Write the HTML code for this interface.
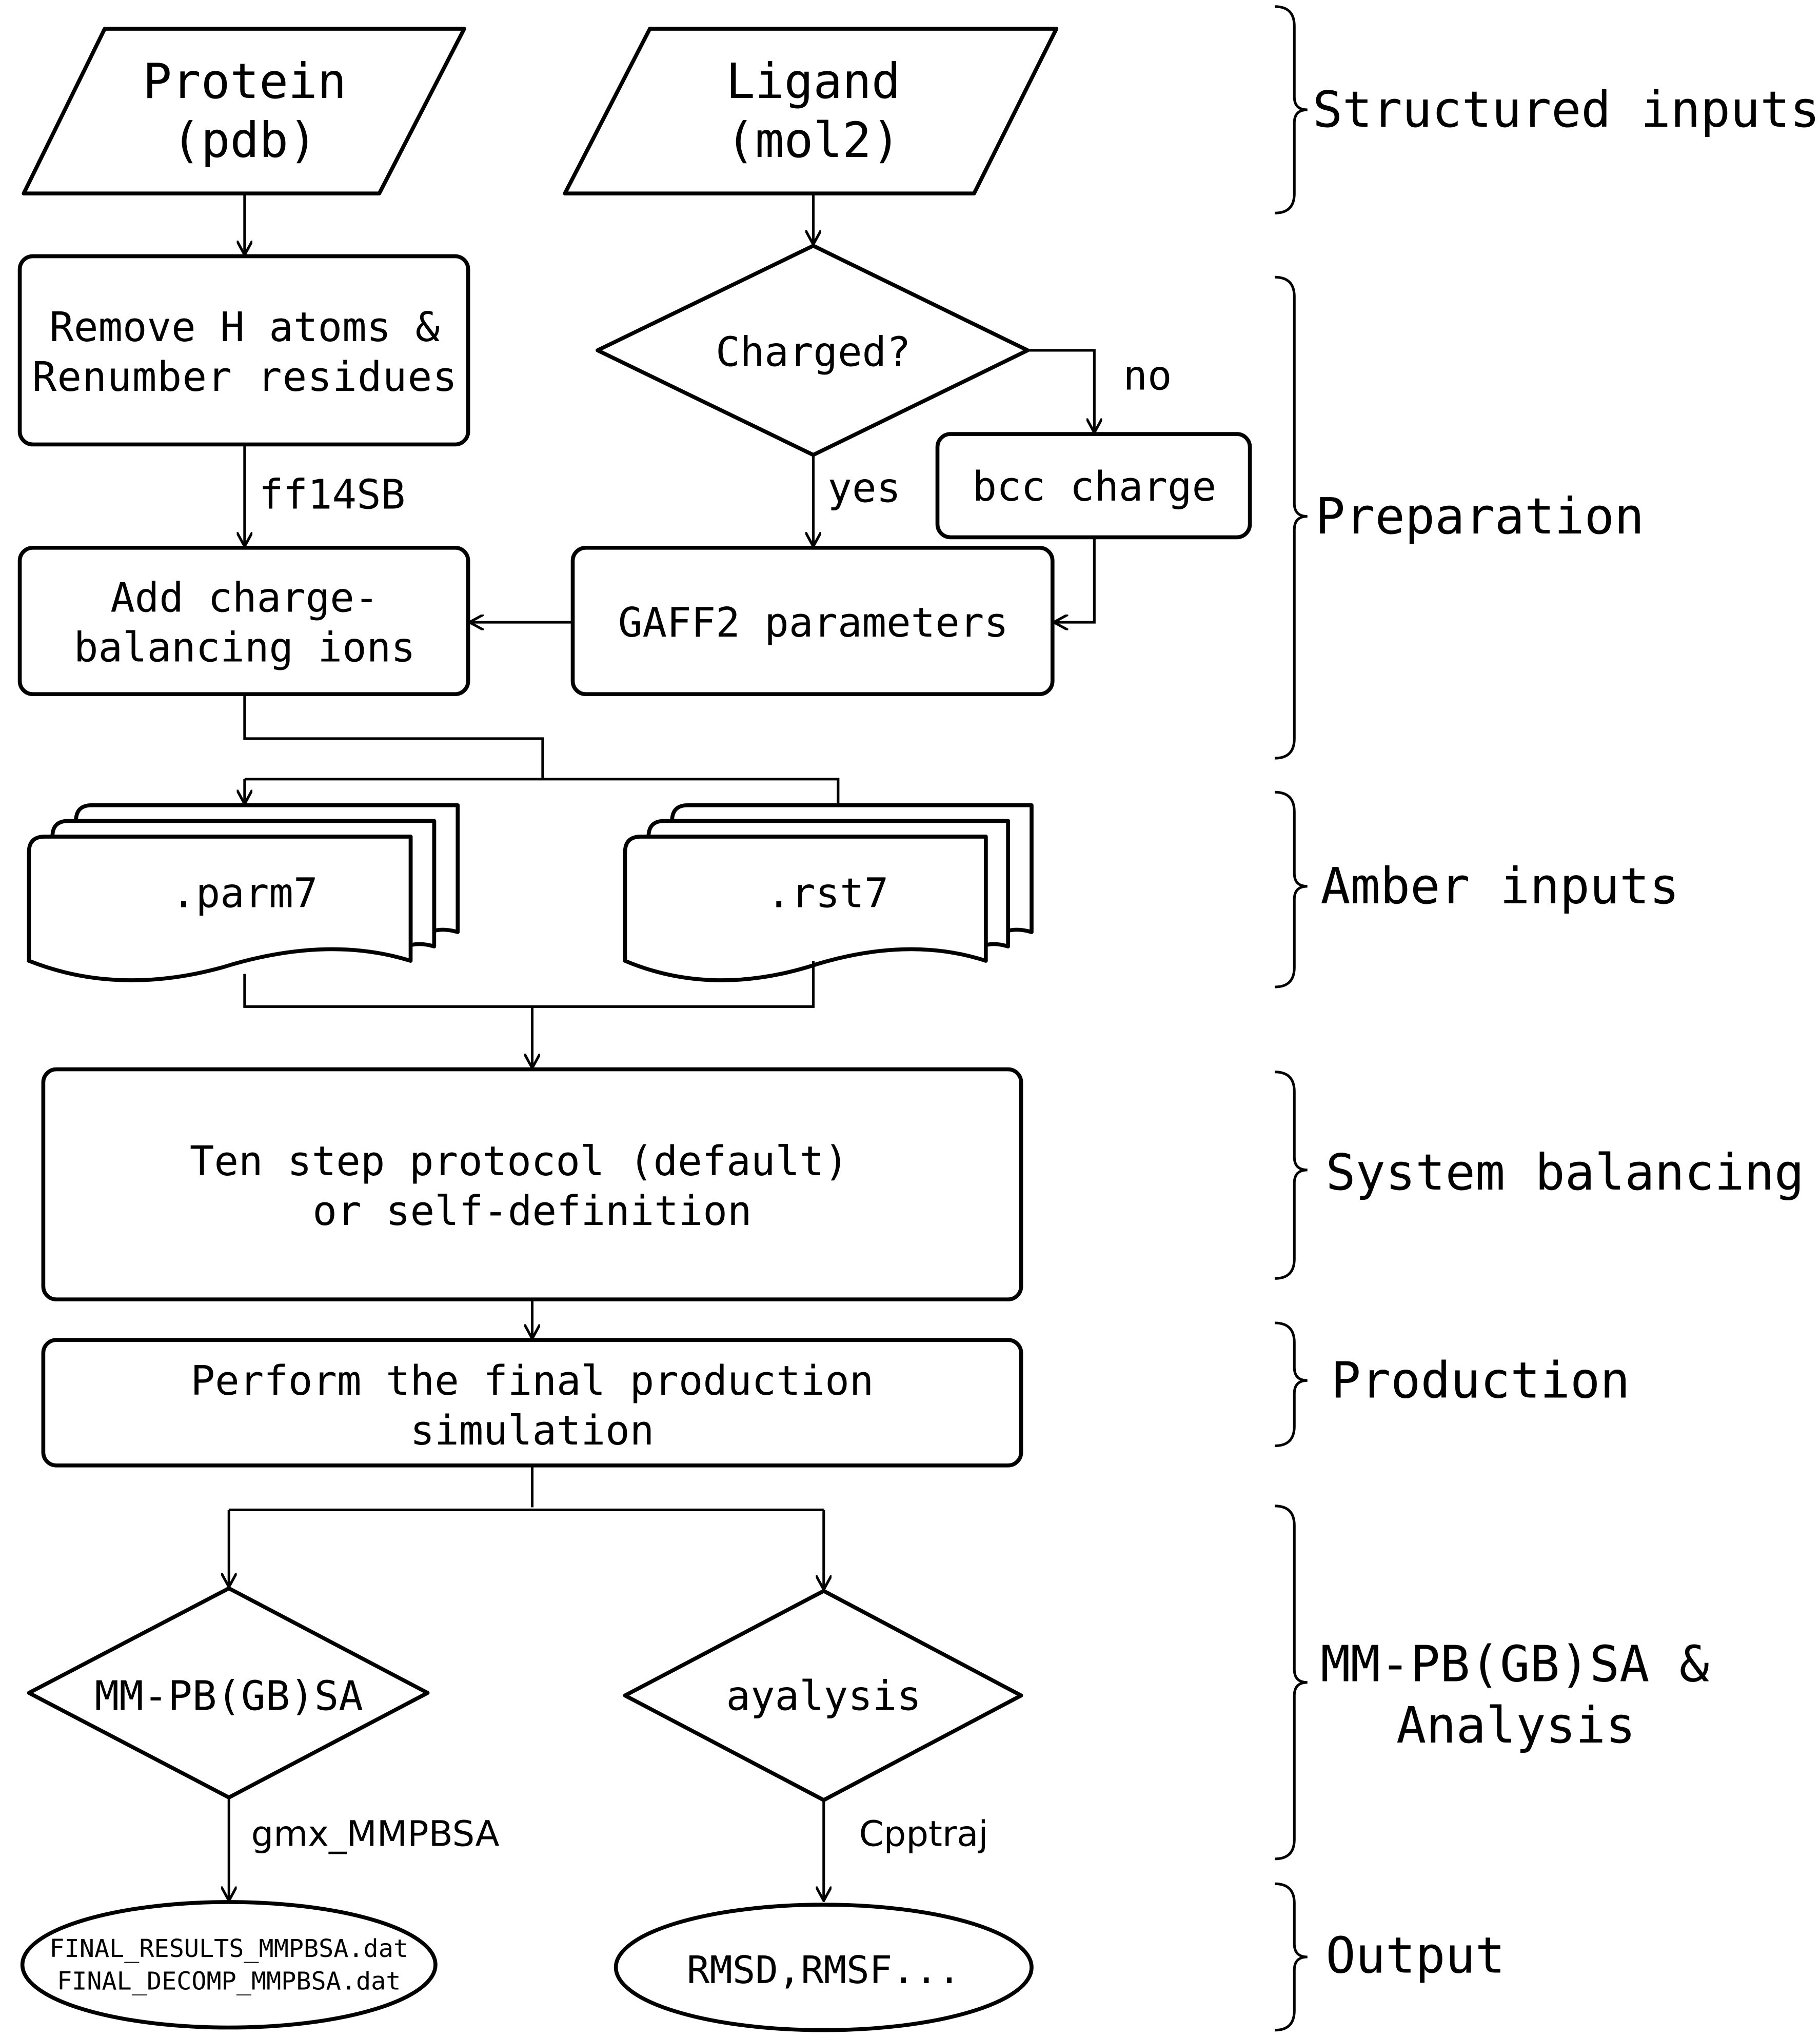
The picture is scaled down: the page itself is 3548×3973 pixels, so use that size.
<!DOCTYPE html>
<html><head><meta charset="utf-8"><style>
html,body{margin:0;padding:0;background:#fff}
svg{display:block}
text{font-family:"DejaVu Sans Mono","Liberation Mono",monospace;fill:#000}
</style></head><body>
<svg width="3548" height="3973" viewBox="0 0 1392 1559" xmlns="http://www.w3.org/2000/svg">
<defs><marker id="a" markerWidth="12" markerHeight="12" refX="11" refY="6" orient="auto" markerUnits="userSpaceOnUse"><path d="M0,0 L11,6 L0,12" fill="none" stroke="#000" stroke-width="2"/></marker></defs>
<g fill="none" stroke="#000" stroke-width="3" stroke-linejoin="round">
<path d="M80,22 L355,22 L290,148 L18,148 Z"/>
<path d="M497,22 L808,22 L745,148 L432,148 Z"/>
<rect x="15" y="196" width="343" height="144" rx="10"/>
<rect x="15" y="419" width="343" height="112" rx="10"/>
<path d="M622,188 L786,268 L622,348 L457,268 Z"/>
<rect x="717" y="332" width="239" height="79" rx="10"/>
<rect x="438" y="419" width="367" height="112" rx="10"/>
<rect x="33" y="818" width="748" height="176" rx="10"/>
<rect x="33" y="1025" width="748" height="96" rx="10"/>
<path d="M175,1215 L327,1295 L175,1375 L22,1295 Z"/>
<path d="M630,1217 L781,1297 L630,1377 L478,1297 Z"/>
<ellipse cx="175" cy="1503" rx="158" ry="48"/>
<ellipse cx="630" cy="1505" rx="159" ry="48"/>
</g>
<g fill="#fff" stroke="#000" stroke-width="3" stroke-linejoin="round">
<path d="M58,628 Q58,616 70,616 L350,616 L350,713 Q340,710 332,712 L332,628 Z"/>
<path d="M40,640 Q40,628 52,628 L332,628 L332,724 Q322,721 314,723 L314,640 Z"/>
<path d="M22,652 Q22,640 34,640 L314,640 L314,735 Q250,715 170,740 Q90,762 22,735 Z"/>
<path d="M514,628 Q514,616 526,616 L789,616 L789,713 Q779,710 771,712 L771,628 Z"/>
<path d="M496,640 Q496,628 508,628 L771,628 L771,724 Q761,721 754,723 L754,640 Z"/>
<path d="M478,652 Q478,640 490,640 L754,640 L754,735 Q693,715 617,740 Q542,762 478,735 Z"/>
</g>
<g fill="none" stroke="#000" stroke-width="2">
<path d="M187,148 L187,195" marker-end="url(#a)"/>
<path d="M187,340 L187,418" marker-end="url(#a)"/>
<path d="M622,148 L622,187" marker-end="url(#a)"/>
<path d="M786,268 L837,268 L837,331" marker-end="url(#a)"/>
<path d="M622,348 L622,418" marker-end="url(#a)"/>
<path d="M837,411 L837,476 L806,476" marker-end="url(#a)"/>
<path d="M438,476 L359,476" marker-end="url(#a)"/>
<path d="M187,531 L187,565 L415,565 L415,596"/>
<path d="M187,596 L641,596 L641,616"/>
<path d="M187,596 L187,615" marker-end="url(#a)"/>
<path d="M187,745 L187,770 L622,770 L622,735"/>
<path d="M407,770 L407,817" marker-end="url(#a)"/>
<path d="M407,994 L407,1024" marker-end="url(#a)"/>
<path d="M407,1121 L407,1153"/>
<path d="M175,1155 L630,1155"/>
<path d="M175,1155 L175,1214" marker-end="url(#a)"/>
<path d="M630,1155 L630,1216" marker-end="url(#a)"/>
<path d="M175,1375 L175,1454" marker-end="url(#a)"/>
<path d="M630,1377 L630,1454" marker-end="url(#a)"/>
<path d="M975,5 Q990,5 990,20 L990,74 Q990,84 1000,84 Q990,84 990,94 L990,148 Q990,163 975,163"/>
<path d="M975,212 Q990,212 990,227 L990,385 Q990,395 1000,395 Q990,395 990,405 L990,565 Q990,580 975,580"/>
<path d="M975,606 Q990,606 990,621 L990,668 Q990,678 1000,678 Q990,678 990,688 L990,740 Q990,755 975,755"/>
<path d="M975,820 Q990,820 990,835 L990,885 Q990,895 1000,895 Q990,895 990,905 L990,963 Q990,978 975,978"/>
<path d="M975,1012 Q990,1012 990,1027 L990,1046 Q990,1056 1000,1056 Q990,1056 990,1066 L990,1091 Q990,1106 975,1106"/>
<path d="M975,1152 Q990,1152 990,1167 L990,1277 Q990,1287 1000,1287 Q990,1287 990,1297 L990,1407 Q990,1422 975,1422"/>
<path d="M975,1441 Q990,1441 990,1456 L990,1487 Q990,1497 1000,1497 Q990,1497 990,1507 L990,1538 Q990,1553 975,1553"/>
</g>
<g font-size="37" text-anchor="middle">
<text x="187" y="75">Protein</text>
<text x="187" y="120">(pdb)</text>
<text x="622" y="75">Ligand</text>
<text x="622" y="120">(mol2)</text>
</g>
<g font-size="31" text-anchor="middle">
<text x="187" y="261">Remove H atoms &amp;</text>
<text x="187" y="299" textLength="325">Renumber residues</text>
<text x="187" y="468">Add charge-</text>
<text x="187" y="506">balancing ions</text>
<text x="622" y="280">Charged?</text>
<text x="837" y="383">bcc charge</text>
<text x="622" y="487">GAFF2 parameters</text>
<text x="187" y="694">.parm7</text>
<text x="633" y="694">.rst7</text>
<text x="397" y="899">Ten step protocol (default)</text>
<text x="407" y="937">or self-definition</text>
<text x="407" y="1067">Perform the final production</text>
<text x="407" y="1105">simulation</text>
<text x="175" y="1308">MM-PB(GB)SA</text>
<text x="630" y="1308">ayalysis</text>
<text x="630" y="1517" font-size="29">RMSD,RMSF...</text>
</g>
<g font-size="27">
<text x="192" y="1412" style="font-family:'DejaVu Sans',sans-serif">gmx_MMPBSA</text>
<text x="657" y="1412" style="font-family:'DejaVu Sans',sans-serif">Cpptraj</text>
</g>
<g font-size="31">
<text x="198" y="389">ff14SB</text>
<text x="859" y="298">no</text>
<text x="633" y="384">yes</text>
</g>
<g font-size="19" text-anchor="middle">
<text x="175" y="1497">FINAL_RESULTS_MMPBSA.dat</text>
<text x="175" y="1522">FINAL_DECOMP_MMPBSA.dat</text>
</g>
<g font-size="38">
<text x="1004" y="97" textLength="388">Structured inputs</text>
<text x="1006" y="408">Preparation</text>
<text x="1010" y="691">Amber inputs</text>
<text x="1014" y="910">System balancing</text>
<text x="1018" y="1069">Production</text>
<text x="1010" y="1286">MM-PB(GB)SA &amp;</text>
<text x="1068" y="1333">Analysis</text>
<text x="1014" y="1509">Output</text>
</g>
</svg>
</body></html>
